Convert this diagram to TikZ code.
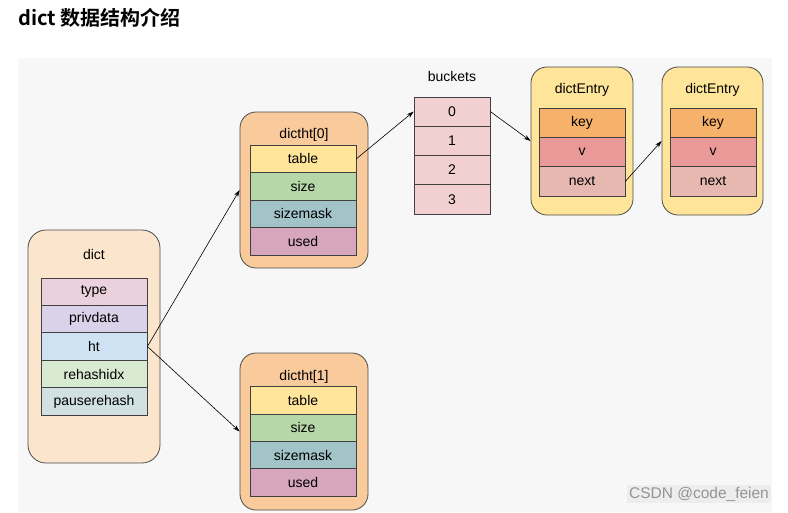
\documentclass[tikz,border=0pt]{standalone}
\usepackage{fontspec}
\setmainfont{Liberation Sans}
\newfontfamily\cjk{Noto Sans CJK SC}[BoldFont={Noto Sans CJK SC Bold}]
\usepackage{xcolor}
\definecolor{canvas}{RGB}{247,247,247}
\definecolor{dictbg}{RGB}{252,229,205}
\definecolor{htbg}{RGB}{249,203,156}
\definecolor{entrybg}{RGB}{255,229,153}
\definecolor{typecol}{RGB}{234,209,220}
\definecolor{privcol}{RGB}{217,210,233}
\definecolor{htcol}{RGB}{207,226,243}
\definecolor{rehashcol}{RGB}{217,234,211}
\definecolor{pausecol}{RGB}{208,224,227}
\definecolor{tablecol}{RGB}{255,229,153}
\definecolor{sizecol}{RGB}{182,215,168}
\definecolor{maskcol}{RGB}{162,196,201}
\definecolor{usedcol}{RGB}{213,166,189}
\definecolor{bucketcol}{RGB}{242,208,210}
\definecolor{keycol}{RGB}{246,178,107}
\definecolor{valcol}{RGB}{234,153,153}
\definecolor{nextcol}{RGB}{230,184,175}
\usetikzlibrary{arrows.meta}
\tikzset{
  holder/.style={draw=black!70, line width=0.8pt, rounded corners=16pt},
  field/.style={draw=black!75, line width=0.8pt, inner sep=0pt,
    minimum width=106pt, minimum height=27.5pt,
    font=\fontsize{14}{16}\selectfont},
  caption/.style={font=\fontsize{14}{16}\selectfont, inner sep=0pt},
  ptr/.style={draw, -{Stealth[length=7pt,width=4.5pt]}, line width=0.6pt}
}

\begin{document}
\begin{tikzpicture}[x=1pt,y=-1pt]
  \useasboundingbox (0,0) rectangle (788,512);
  \fill[white] (0,0) rectangle (788,512);
  \fill[canvas] (18,58) rectangle (772,512);
  \node[anchor=west, inner sep=0pt, font=\cjk\bfseries\fontsize{20}{24}\selectfont]
    (title) at (18,18) {dict 数据结构介绍};

  % dict
  \node[holder, rounded corners=18pt, fill=dictbg, minimum width=132pt,
    minimum height=233pt] (dict) at (94,346.5) {};
  \node[caption] (dictname) at (94,254) {dict};
  \node[field, fill=typecol] (type) at (94,291.7) {type};
  \node[field, fill=privcol] (privdata) at (94,319.1) {privdata};
  \node[field, fill=htcol] (ht) at (94,346.5) {ht};
  \node[field, fill=rehashcol] (rehashidx) at (94,374) {rehashidx};
  \node[field, fill=pausecol] (pauserehash) at (94,401.4) {pauserehash};

  % dictht[0]
  \node[holder, fill=htbg, minimum width=128pt, minimum height=156pt]
    (dictht0) at (304,190) {};
  \node[caption] (ht0name) at (304,135) {dictht[0]};
  \node[field, fill=tablecol] (table0) at (303,158.75) {table};
  \node[field, fill=sizecol] (size0) at (303,186.25) {size};
  \node[field, fill=maskcol] (mask0) at (303,213.75) {sizemask};
  \node[field, fill=usedcol] (used0) at (303,241.25) {used};

  % dictht[1]
  \node[holder, fill=htbg, minimum width=128pt, minimum height=157pt]
    (dictht1) at (304,431.5) {};
  \node[caption] (ht1name) at (304,377) {dictht[1]};
  \node[field, fill=tablecol] (table1) at (303,400.6) {table};
  \node[field, fill=sizecol] (size1) at (303,427.9) {size};
  \node[field, fill=maskcol] (mask1) at (303,455.1) {sizemask};
  \node[field, fill=usedcol] (used1) at (303,482.4) {used};

  % buckets
  \node[caption] (bucketsname) at (452,76) {buckets};
  \node[field, fill=bucketcol, minimum width=76pt, minimum height=29.25pt]
    (b0) at (452,111.6) {0};
  \node[field, fill=bucketcol, minimum width=76pt, minimum height=29.25pt]
    (b1) at (452,140.9) {1};
  \node[field, fill=bucketcol, minimum width=76pt, minimum height=29.25pt]
    (b2) at (452,170.1) {2};
  \node[field, fill=bucketcol, minimum width=76pt, minimum height=29.25pt]
    (b3) at (452,199.4) {3};

  % dictEntry
  \node[holder, fill=entrybg, minimum width=102pt, minimum height=148pt]
    (entry1) at (582,141) {};
  \node[caption] (entry1name) at (582,90) {dictEntry};
  \node[field, fill=keycol, minimum width=86pt, minimum height=29.3pt]
    (key1) at (582,122.7) {key};
  \node[field, fill=valcol, minimum width=86pt, minimum height=29.3pt]
    (v1) at (582,152) {v};
  \node[field, fill=nextcol, minimum width=86pt, minimum height=29.3pt]
    (next1) at (582,181.3) {next};

  \node[holder, fill=entrybg, minimum width=101pt, minimum height=148pt]
    (entry2) at (712.5,141) {};
  \node[caption] (entry2name) at (712.5,90) {dictEntry};
  \node[field, fill=keycol, minimum width=86pt, minimum height=29.3pt]
    (key2) at (713,122.7) {key};
  \node[field, fill=valcol, minimum width=86pt, minimum height=29.3pt]
    (v2) at (713,152) {v};
  \node[field, fill=nextcol, minimum width=86pt, minimum height=29.3pt]
    (next2) at (713,181.3) {next};

  % pointers
  \path[ptr] (ht.east) -- (dictht0.west);
  \path[ptr] (ht.east) -- (dictht1.west);
  \path[ptr] (table0.east) -- (b0.west);
  \path[ptr] (b0.east) -- (entry1.west);
  \path[ptr] (next1.east) -- (entry2.west);

  % watermark
  \node[fill=black!7, text=black!42, inner sep=2pt,
    font=\fontsize{15.5}{18}\selectfont] (mark) at (699,494) {CSDN @code\_feien};
\end{tikzpicture}
\end{document}
